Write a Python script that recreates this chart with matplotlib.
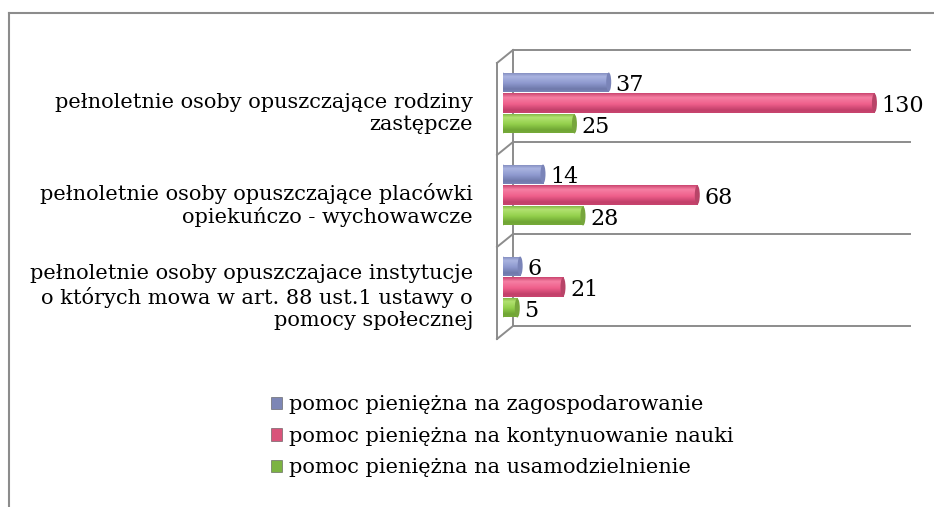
import numpy as np
import matplotlib
matplotlib.use("Agg")
import matplotlib.pyplot as plt
from matplotlib import transforms
from matplotlib.colors import LinearSegmentedColormap
from matplotlib.lines import Line2D
from matplotlib.patches import Ellipse, Patch

plt.rcParams['font.family'] = ['DejaVu Serif']

# data
categories = [
    "pełnoletnie osoby opuszczające rodziny\nzastępcze",
    "pełnoletnie osoby opuszczające placówki\nopiekuńczo - wychowawcze",
    "pełnoletnie osoby opuszczajace instytucje\no których mowa w art. 88 ust.1 ustawy o\npomocy społecznej",
]
series_names = [
    "pomoc pieniężna na zagospodarowanie",
    "pomoc pieniężna na kontynuowanie nauki",
    "pomoc pieniężna na usamodzielnienie",
]
zagospodarowanie = [37, 14, 6]
kontynuowanie_nauki = [130, 68, 21]
usamodzielnienie = [25, 28, 5]

# colours: (top edge, highlight, main, lower, cap)
shades = [
    ("#7a84b8", "#aab4e0", "#8e99cf", "#6f79aa", "#7a84b8"),
    ("#c9446e", "#f67fa3", "#ef5f8b", "#c2406a", "#b84468"),
    ("#77aa3a", "#b2e270", "#93cf4c", "#6fa534", "#77a63c"),
]
legend_colors = ["#7d86b5", "#d9537a", "#7cb342"]
line_gray = "#8c8c8c"

W, H = 934, 507
fig = plt.figure(figsize=(W / 100, H / 100), dpi=100)
ax = fig.add_axes([503 / W, (H - 333) / H, 400 / W, 276 / H])
ax.set_xlim(0, 140)
ax.set_ylim(2.5, -0.5)
ax.set_autoscale_on(False)
ax.axis('off')

px_per_unit = 400 / 140
y = np.arange(len(categories))
bar_h = 0.207
offsets = [-0.228, 0.0, 0.228]
all_series = [zagospodarowanie, kontynuowanie_nauki, usamodzielnienie]

# 3D wall frame
back = transforms.offset_copy(ax.transData, fig=fig, x=10, y=7, units='dots')
front = transforms.offset_copy(ax.transData, fig=fig, x=-6, y=-6, units='dots')
bounds = [-0.5, 0.5, 1.5, 2.5]
for b in bounds:
    ax.plot([0, 139], [b, b], color=line_gray, lw=1.4, transform=back, clip_on=False, zorder=1)
ax.plot([0, 0], [-0.5, 2.5], color=line_gray, lw=1.4, transform=back, clip_on=False, zorder=1)
ax.plot([0, 0], [-0.5, 2.5], color=line_gray, lw=1.4, transform=front, clip_on=False, zorder=1)
for b in bounds:
    p0 = front.transform((0, b))
    p1 = back.transform((0, b))
    ax.add_line(Line2D([p0[0], p1[0]], [p0[1], p1[1]], color=line_gray, lw=1.4,
                       transform=None, clip_on=False, zorder=1))

# cylinder bars
grad = np.linspace(0, 1, 256).reshape(-1, 1)
cap_w = 5 / px_per_unit
for vals, off, sh in zip(all_series, offsets, shades):
    cmap = LinearSegmentedColormap.from_list(
        "cyl", [(0, sh[0]), (0.22, sh[1]), (0.55, sh[2]), (0.85, sh[3]), (1, sh[0])])
    bars = ax.barh(y + off, vals, height=bar_h, color=sh[2], zorder=2)
    for rect, v in zip(bars, vals):
        yc = rect.get_y() + bar_h / 2
        im = ax.imshow(grad, cmap=cmap, aspect='auto', zorder=2.5,
                       extent=(0, v, yc + bar_h / 2, yc - bar_h / 2), interpolation='bilinear')
        im.set_clip_path(rect)
        ax.add_patch(Ellipse((0, yc), cap_w, bar_h, facecolor=sh[2], edgecolor='none', zorder=2.4))
        ax.add_patch(Ellipse((v, yc), cap_w, bar_h, facecolor=sh[4], edgecolor='none', zorder=3))
        ax.annotate(str(v), (v, yc), xytext=(5, -2), textcoords='offset points',
                    ha='left', va='center', fontsize=16, color='black', zorder=4)

ax.set_xlim(0, 140)
ax.set_ylim(2.5, -0.5)

# category labels
lab_tr = transforms.offset_copy(
    transforms.blended_transform_factory(fig.transFigure, ax.transData),
    fig=fig, x=0, y=-10, units='dots')
for yi, cat in zip(y, categories):
    ax.text(473 / W, yi, cat, transform=lab_tr, ha='right', va='center',
            multialignment='right', fontsize=15, linespacing=1.2)

# legend
handles = [Patch(facecolor=c, edgecolor='#555555', linewidth=0.4) for c in legend_colors]
fig.legend(handles, series_names, loc='upper left', bbox_to_anchor=(263 / W, 1 - 387 / H),
           frameon=False, fontsize=15, handlelength=0.53, handleheight=0.53,
           handletextpad=0.3, labelspacing=0.6, borderaxespad=0)

# outer border (top and left only)
fig.add_artist(Line2D([9 / W, 1], [1 - 13 / H, 1 - 13 / H], transform=fig.transFigure,
                      color=line_gray, lw=1.5))
fig.add_artist(Line2D([9 / W, 9 / W], [0, 1 - 13 / H], transform=fig.transFigure,
                      color=line_gray, lw=1.5))

fig.savefig("out.png", dpi=100)
